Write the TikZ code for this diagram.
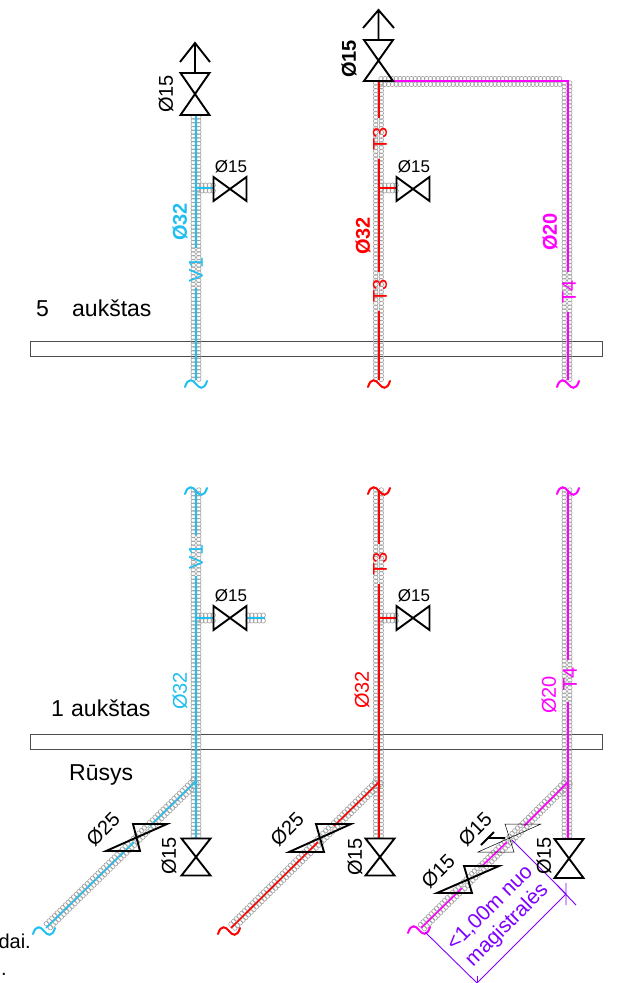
\documentclass[tikz,border=0pt]{standalone}
\usepackage{fontspec}
\setmainfont{Liberation Sans}
\usetikzlibrary{calc}
\definecolor{pv}{HTML}{1FBFEF}
\definecolor{pt}{HTML}{FF0000}
\definecolor{pf}{HTML}{FF00FF}
\definecolor{dimc}{HTML}{8000FF}
\definecolor{ins}{HTML}{A0A0A0}
\tikzset{
 lab/.style={font=\fontsize{20}{20}\selectfont,inner sep=0pt,text=black},
 labb/.style={font=\fontsize{20}{20}\selectfont\bfseries,inner sep=0pt,text=black},
 labsm/.style={font=\fontsize{17}{17}\selectfont,inner sep=0pt,text=black},
 floor/.style={font=\fontsize{23}{23}\selectfont,inner sep=0pt,text=black,anchor=base west},
 vvalve/.style={draw=black,line width=1.9pt,line join=miter},
 slab/.style={draw=black!70,line width=1pt},
 brk/.style={line width=2pt,line cap=round},
 core/.style={line width=1.5pt},
 dimline/.style={draw=dimc,line width=0.9pt},
}
% insulation: two rows of small rings along a segment
\newcommand{\insul}[4]{%
 \pgfmathsetmacro\insdx{#3-(#1)}%
 \pgfmathsetmacro\insdy{#2-(#4)}%
 \pgfmathsetmacro\insa{atan2(\insdy,\insdx)}%
 \pgfmathtruncatemacro\insn{veclen(\insdx,\insdy)/3.8}%
 \foreach \i in {0,...,\insn}{
  \draw[ins,line width=0.6pt] ($(#1,#2)+(\insa:\i*3.8pt)+(\insa+90:2.8pt)$) circle[radius=2.3pt];
  \draw[ins,line width=0.6pt] ($(#1,#2)+(\insa:\i*3.8pt)+(\insa-90:2.8pt)$) circle[radius=2.3pt];
 }}
\newcommand{\brkmark}[3]{%
 \draw[brk,#3] (#1-11,#2+3) .. controls (#1-8,#2-7) and (#1-3,#2-4) .. (#1,#2) .. controls (#1+3,#2+4) and (#1+8,#2+7) .. (#1+11,#2-3);}
% vertical bowtie valve, centre c
\newcommand{\vval}[3]{\draw[vvalve] (#1-14.5,#2-#3) -- (#1+14.5,#2-#3) -- (#1-14.5,#2+#3) -- (#1+14.5,#2+#3) -- cycle;}
% horizontal bowtie valve
\newcommand{\hval}[2]{\draw[vvalve] (#1-16.5,#2-12) -- (#1-16.5,#2+12) -- (#1+16.5,#2-12) -- (#1+16.5,#2+12) -- cycle;}
\begin{document}
\begin{tikzpicture}[x=1pt,y=-1pt]
\useasboundingbox (0,0) rectangle (618,983);
\fill[white] (0,0) rectangle (618,983);

% slabs
\draw[slab] (30,341) rectangle (602,356);
\draw[slab] (30,734) rectangle (602,749);

% insulation
\insul{196}{117}{196}{380}
\insul{378.5}{83}{378.5}{380}
\insul{381}{81.5}{563}{81.5}
\insul{567}{83}{567}{380}
\insul{198}{188}{214}{188}
\insul{381}{188}{397}{188}
\insul{196}{490}{196}{836}
\insul{378.5}{490}{378.5}{836}
\insul{567}{490}{567}{836}
\insul{198}{618}{214}{618}
\insul{248}{618}{264}{618}
\insul{381}{618}{397}{618}
\insul{195}{782}{46}{928}
\insul{379}{782}{231}{928}
\insul{568}{782}{421}{928}

% coloured cores
\draw[pv,core] (196,115) -- (196,248) (196,288) -- (196,380);
\draw[pv,core] (196,188) -- (213,188);
\draw[pv,core] (196,490) -- (196,535) (196,576) -- (196,838);
\draw[pv,core] (196,618) -- (213,618) (247,618) -- (265,618);
\draw[pv,core] (195,782) -- (150,826) (134,842) -- (46,928);
\draw[pt,core] (379,81) -- (379,118) (379,159) -- (379,272) (379,311) -- (379,380);
\draw[pt,core] (379,188) -- (397,188);
\draw[pt,core] (379,490) -- (379,544) (379,584) -- (379,838);
\draw[pt,core] (379,618) -- (397,618);
\draw[pt,core] (379,782) -- (334,826) (318,842) -- (231,928);
\draw[pf,core] (379,81) -- (568,81) -- (568,272) (568,312) -- (568,380);
\draw[pf,core] (568,490) -- (568,660) (568,702) -- (568,838);
\draw[pf,core] (568,782) -- (524,826) (507,842) -- (482,866) (462,888) -- (421,928);

% breaks
\brkmark{196}{384}{pv}
\brkmark{379}{384}{pt}
\brkmark{568}{384}{pf}
\brkmark{196}{491}{pv}
\brkmark{379}{491}{pt}
\brkmark{568}{491}{pf}
\brkmark{44}{931}{pv}
\brkmark{229}{931}{pt}
\brkmark{419}{930}{pf}

% valves upper
\vval{195}{94}{21}
\draw[vvalve] (195,73) -- (195,43) (180,62) -- (195,43) -- (210,62);
\vval{378.5}{60.5}{20.5}
\draw[vvalve] (378.5,40) -- (378.5,10) (363,28) -- (378.5,10) -- (394,28);
\hval{230}{189}
\hval{413}{189}
% valves lower
\hval{230}{618}
\hval{413}{618}
\vval{196}{857}{18.5}
\vval{380}{857}{18.5}
\vval{569}{858.5}{19.5}
% angled valves
\draw[vvalve] (106,851) -- (140,851) -- (133,824) -- (167,824) -- cycle;
\draw[vvalve] (289,852) -- (324,852) -- (316,824) -- (351,824) -- cycle;
\draw[draw=black,line width=0.5pt] (478,852) -- (514,852) -- (505,824) -- (541,824) -- cycle;
\draw[vvalve] (437,893) -- (472,893) -- (464,866) -- (499,866) -- cycle;
\draw[vvalve] (481,845) -- (494,832) (488,838) -- (505,838);

% dimension
\coordinate (da) at (512,840);
\coordinate (db) at (566,894);
\coordinate (dc) at (477,983);
\coordinate (dd) at (425,932);
\draw[dimline] (da) -- (db) -- (dc) -- (dd);
\draw[dimline] (566,883) -- (566,905) (557,885) -- (576,905);
\draw[dimline] (477,976) -- (477,983);
\node[font=\fontsize{21}{24}\selectfont,text=dimc,align=center,rotate=45,inner sep=0pt] (dimtxt) at (499,917) {<1,00m nuo\\magistralės};

% labels
\node[lab,rotate=90] (l1) at (166,94) {Ø15};
\node[labsm] (l2) at (231,167) {Ø15};
\node[labb,rotate=90,text=pv] (l3) at (180,222) {Ø32};
\node[lab,rotate=90,text=pv] (l4) at (196,270) {V1};
\node[labb,rotate=90] (l5) at (349,59) {Ø15};
\node[lab,rotate=90,text=pt] (l6) at (380,139) {T3};
\node[labsm] (l7) at (414,167) {Ø15};
\node[labb,rotate=90,text=pt] (l8) at (363,236) {Ø32};
\node[lab,rotate=90,text=pt] (l9) at (380,291) {T3};
\node[labb,rotate=90,text=pf] (l10) at (550,232) {Ø20};
\node[lab,rotate=90,text=pf] (l11) at (569,292) {T4};
\node[floor] (f5) at (36,316) {5};
\node[floor] (f5b) at (72,316) {aukštas};
\node[lab,rotate=90,text=pv] (l12) at (196,557) {V1};
\node[labsm] (l13) at (231,596) {Ø15};
\node[lab,rotate=90,text=pt] (l14) at (380,564) {T3};
\node[labsm] (l15) at (414,596) {Ø15};
\node[lab,rotate=90,text=pv] (l16) at (180,691) {Ø32};
\node[lab,rotate=90,text=pt] (l17) at (362,690) {Ø32};
\node[lab,rotate=90,text=pf] (l18) at (549,695) {Ø20};
\node[lab,rotate=90,text=pf] (l19) at (570,679) {T4};
\node[floor] (f1) at (51,716) {1};
\node[floor] (f1b) at (71,716) {aukštas};
\node[floor] (r) at (69,780) {Rūsys};
\node[lab,rotate=45] (l20) at (103,829) {Ø25};
\node[lab,rotate=90] (l21) at (169,856) {Ø15};
\node[lab,rotate=45] (l22) at (287,829) {Ø25};
\node[lab,rotate=90] (l23) at (355,857) {Ø15};
\node[lab,rotate=45] (l24) at (475,829) {Ø15};
\node[lab,rotate=45] (l25) at (438,871) {Ø15};
\node[lab,rotate=90] (l26) at (544,856) {Ø15};
\node[font=\fontsize{20}{20}\selectfont,inner sep=0pt,anchor=base east] (t1) at (31,948) {dai.};
\node[font=\fontsize{20}{20}\selectfont,inner sep=0pt,anchor=base east] (t2) at (7,975) {.};
\end{tikzpicture}
\end{document}
